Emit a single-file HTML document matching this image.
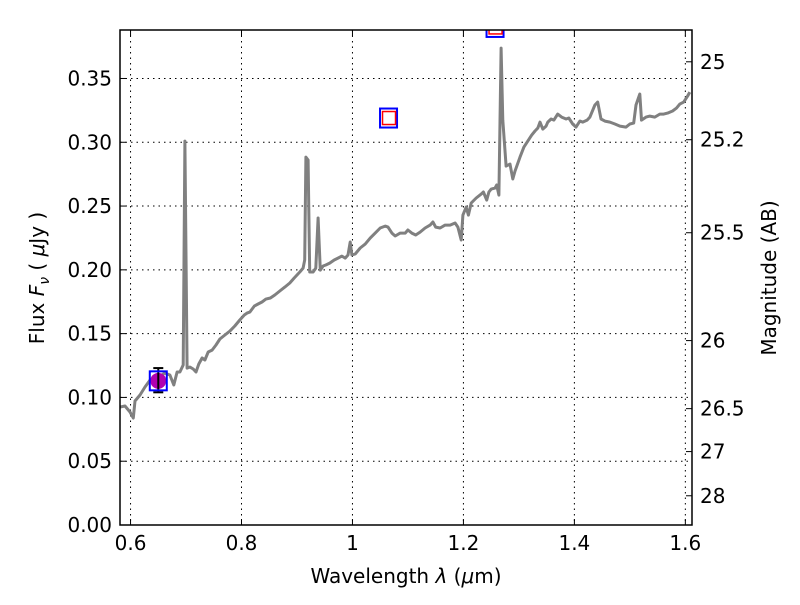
<!DOCTYPE html>
<html><head><meta charset="utf-8"><style>
body{margin:0;background:#fff}
svg{font-family:"DejaVu Sans","Liberation Sans",sans-serif}
</style></head><body>
<svg id="chart" width="800" height="600" xmlns="http://www.w3.org/2000/svg">
<defs><clipPath id="clip"><rect x="120" y="30" width="572" height="495"/></clipPath></defs>
<g id="grid"></g>
<g id="plot" clip-path="url(#clip)"></g>
<rect x="120" y="30" width="572" height="495" fill="none" stroke="#000" stroke-width="1.5"/>
<g id="ticks"></g>
<text x="406" y="583" font-size="20" text-anchor="middle">Wavelength  <tspan font-style="italic">λ</tspan> (<tspan font-style="italic">μ</tspan>m)</text>
<text transform="translate(44,278) rotate(-90)" font-size="20" text-anchor="middle">Flux  <tspan font-style="italic">F</tspan><tspan font-style="italic" font-size="14" dy="5">ν</tspan><tspan dy="-5">  ( </tspan><tspan font-style="italic">μ</tspan>Jy )</text>
<text transform="translate(776,278) rotate(-90)" font-size="20" text-anchor="middle">Magnitude (AB)</text>
</svg>
<script>
const wavelengths=[0.581,0.590,0.599,0.605,0.608,0.617,0.626,0.635,0.644,0.653,0.662,0.671,0.678,0.684,0.689,0.695,0.698,0.702,0.707,0.713,0.718,0.723,0.729,0.734,0.740,0.747,0.754,0.761,0.770,0.779,0.788,0.797,0.805,0.810,0.815,0.823,0.830,0.837,0.844,0.852,0.860,0.869,0.878,0.887,0.895,0.905,0.911,0.914,0.916,0.920,0.923,0.929,0.934,0.938,0.942,0.947,0.952,0.959,0.967,0.974,0.981,0.987,0.992,0.996,0.999,1.005,1.014,1.023,1.032,1.041,1.050,1.059,1.064,1.071,1.077,1.086,1.095,1.100,1.107,1.114,1.122,1.131,1.140,1.145,1.150,1.158,1.167,1.176,1.185,1.190,1.196,1.199,1.205,1.209,1.214,1.223,1.232,1.236,1.242,1.246,1.250,1.257,1.260,1.264,1.268,1.271,1.277,1.284,1.289,1.293,1.302,1.309,1.316,1.323,1.329,1.334,1.338,1.343,1.349,1.352,1.358,1.363,1.370,1.377,1.385,1.390,1.397,1.403,1.410,1.415,1.423,1.428,1.437,1.442,1.448,1.455,1.464,1.473,1.482,1.493,1.500,1.507,1.511,1.518,1.521,1.529,1.536,1.545,1.554,1.561,1.568,1.577,1.584,1.590,1.597,1.604,1.608];
const fluxes=[0.0925,0.0933,0.0886,0.0839,0.0972,0.1019,0.1082,0.1136,0.1160,0.1168,0.1191,0.1176,0.1097,0.1199,0.1199,0.1254,0.3009,0.1230,0.1238,0.1223,0.1199,0.1262,0.1309,0.1293,0.1356,0.1371,0.1411,0.1458,0.1489,0.1520,0.1560,0.1607,0.1646,0.1661,0.1669,0.1716,0.1732,0.1748,0.1771,0.1779,0.1803,0.1834,0.1865,0.1897,0.1936,0.1983,0.2014,0.2077,0.2884,0.2861,0.1983,0.1983,0.2014,0.2406,0.1998,0.2030,0.2038,0.2053,0.2077,0.2092,0.2108,0.2092,0.2116,0.2218,0.2116,0.2124,0.2171,0.2202,0.2249,0.2288,0.2328,0.2343,0.2335,0.2288,0.2265,0.2288,0.2288,0.2312,0.2288,0.2273,0.2296,0.2328,0.2351,0.2375,0.2335,0.2328,0.2351,0.2351,0.2367,0.2335,0.2234,0.2429,0.2492,0.2429,0.2524,0.2563,0.2594,0.2610,0.2547,0.2610,0.2633,0.2641,0.2665,0.2586,0.3738,0.3174,0.2813,0.2829,0.2712,0.2774,0.2884,0.2962,0.3009,0.3056,0.3088,0.3111,0.3158,0.3103,0.3127,0.3158,0.3182,0.3174,0.3221,0.3197,0.3182,0.3190,0.3143,0.3119,0.3166,0.3158,0.3174,0.3197,0.3292,0.3315,0.3182,0.3166,0.3158,0.3143,0.3127,0.3119,0.3143,0.3150,0.3292,0.3378,0.3174,0.3197,0.3205,0.3197,0.3221,0.3221,0.3229,0.3245,0.3268,0.3299,0.3315,0.3362,0.3393];
const photWl=[0.65,1.065,1.257];
const photFlux=[0.113,0.319,0.390];
const circleWl=[0.65];
const circleFlux=[0.113];
const circleLo=[0.104];
const circleHi=[0.123];
const xTicks=[0.6,0.8,1.0,1.2,1.4,1.6];
const xTickLabels=["0.6","0.8","1","1.2","1.4","1.6"];
const yTicks=[0,0.05,0.10,0.15,0.20,0.25,0.30,0.35];
const yTickLabels=["0.00","0.05","0.10","0.15","0.20","0.25","0.30","0.35"];
const magTicks=[25,25.2,25.5,26,26.5,27,28];
const magTickLabels=["25","25.2","25.5","26","26.5","27","28"];

const X0=120,X1=692,Y0=525,Y1=30,XMIN=0.581,XMAX=1.612,YMIN=0,YMAX=0.388;
const sx=v=>X0+(v-XMIN)/(XMAX-XMIN)*(X1-X0);
const sy=v=>Y0-(v-YMIN)/(YMAX-YMIN)*(Y0-Y1);
const magToFlux=m=>Math.pow(10,(23.9-m)/2.5);
const NS="http://www.w3.org/2000/svg";
function mk(tag,attrs,parent){const e=document.createElementNS(NS,tag);for(const k in attrs)e.setAttribute(k,attrs[k]);parent.appendChild(e);return e;}
const grid=document.getElementById('grid'),plot=document.getElementById('plot'),ticks=document.getElementById('ticks');
xTicks.forEach((t,i)=>{
 const x=sx(t);
 const g=mk('line',{x1:x,x2:x,y1:Y1,y2:Y0,stroke:'#000','stroke-dasharray':'1.5,4','stroke-width':1},grid);
 
 
 mk('line',{x1:x,x2:x,y1:Y0,y2:Y0-6,stroke:'#000'},ticks);
 mk('line',{x1:x,x2:x,y1:Y1,y2:Y1+6,stroke:'#000'},ticks);
 const l=mk('text',{x:x,y:Y0+25,'font-size':20,'text-anchor':'middle'},ticks);
 l.textContent=xTickLabels[i];
 
 
});
yTicks.forEach((t,i)=>{
 const y=sy(t);
 const g=mk('line',{x1:X0,x2:X1,y1:y,y2:y,stroke:'#000','stroke-dasharray':'1.5,4','stroke-width':1},grid);
 
 
 mk('line',{x1:X0,x2:X0+6,y1:y,y2:y,stroke:'#000'},ticks);
 const l=mk('text',{x:X0-8,y:y+7,'font-size':20,'text-anchor':'end'},ticks);
 l.textContent=yTickLabels[i];
 
 
});
magTicks.forEach((m,i)=>{
 const y=sy(magToFlux(m));
 mk('line',{x1:X1,x2:X1-6,y1:y,y2:y,stroke:'#000'},ticks);
 const l=mk('text',{x:X1+8,y:y+7,'font-size':20,'text-anchor':'start'},ticks);
 l.textContent=magTickLabels[i];
 
 
});
const pts=wavelengths.map((w,i)=>sx(w).toFixed(1)+','+sy(fluxes[i]).toFixed(1)).join(' ');
const line=mk('polyline',{points:pts,fill:'none',stroke:'#808080','stroke-width':3,'stroke-linejoin':'round'},plot);


circleWl.forEach((w,i)=>{
 const x=sx(w);
 const c=mk('circle',{cx:x,cy:sy(circleFlux[i]),r:8,fill:'#b000b0'},plot);
 
 
 const e=mk('g',{stroke:'#000','stroke-width':2},plot);
 
 
 mk('line',{x1:x,x2:x,y1:sy(circleLo[i]),y2:sy(circleHi[i])},e);
 mk('line',{x1:x-5,x2:x+5,y1:sy(circleLo[i]),y2:sy(circleLo[i])},e);
 mk('line',{x1:x-5,x2:x+5,y1:sy(circleHi[i]),y2:sy(circleHi[i])},e);
});
photWl.forEach((w,i)=>{
 const x=sx(w),y=sy(photFlux[i]);
 const b=mk('rect',{x:x-8.5,y:y-9.5,width:17,height:19,fill:'none',stroke:'#0000ff','stroke-width':2},plot);
 
 
 if(i>0){
  const r=mk('rect',{x:x-6,y:y-6.5,width:13,height:13,fill:'none',stroke:'#ff0000','stroke-width':1.5},plot);
  
  
 }
});
</script>
</body></html>
